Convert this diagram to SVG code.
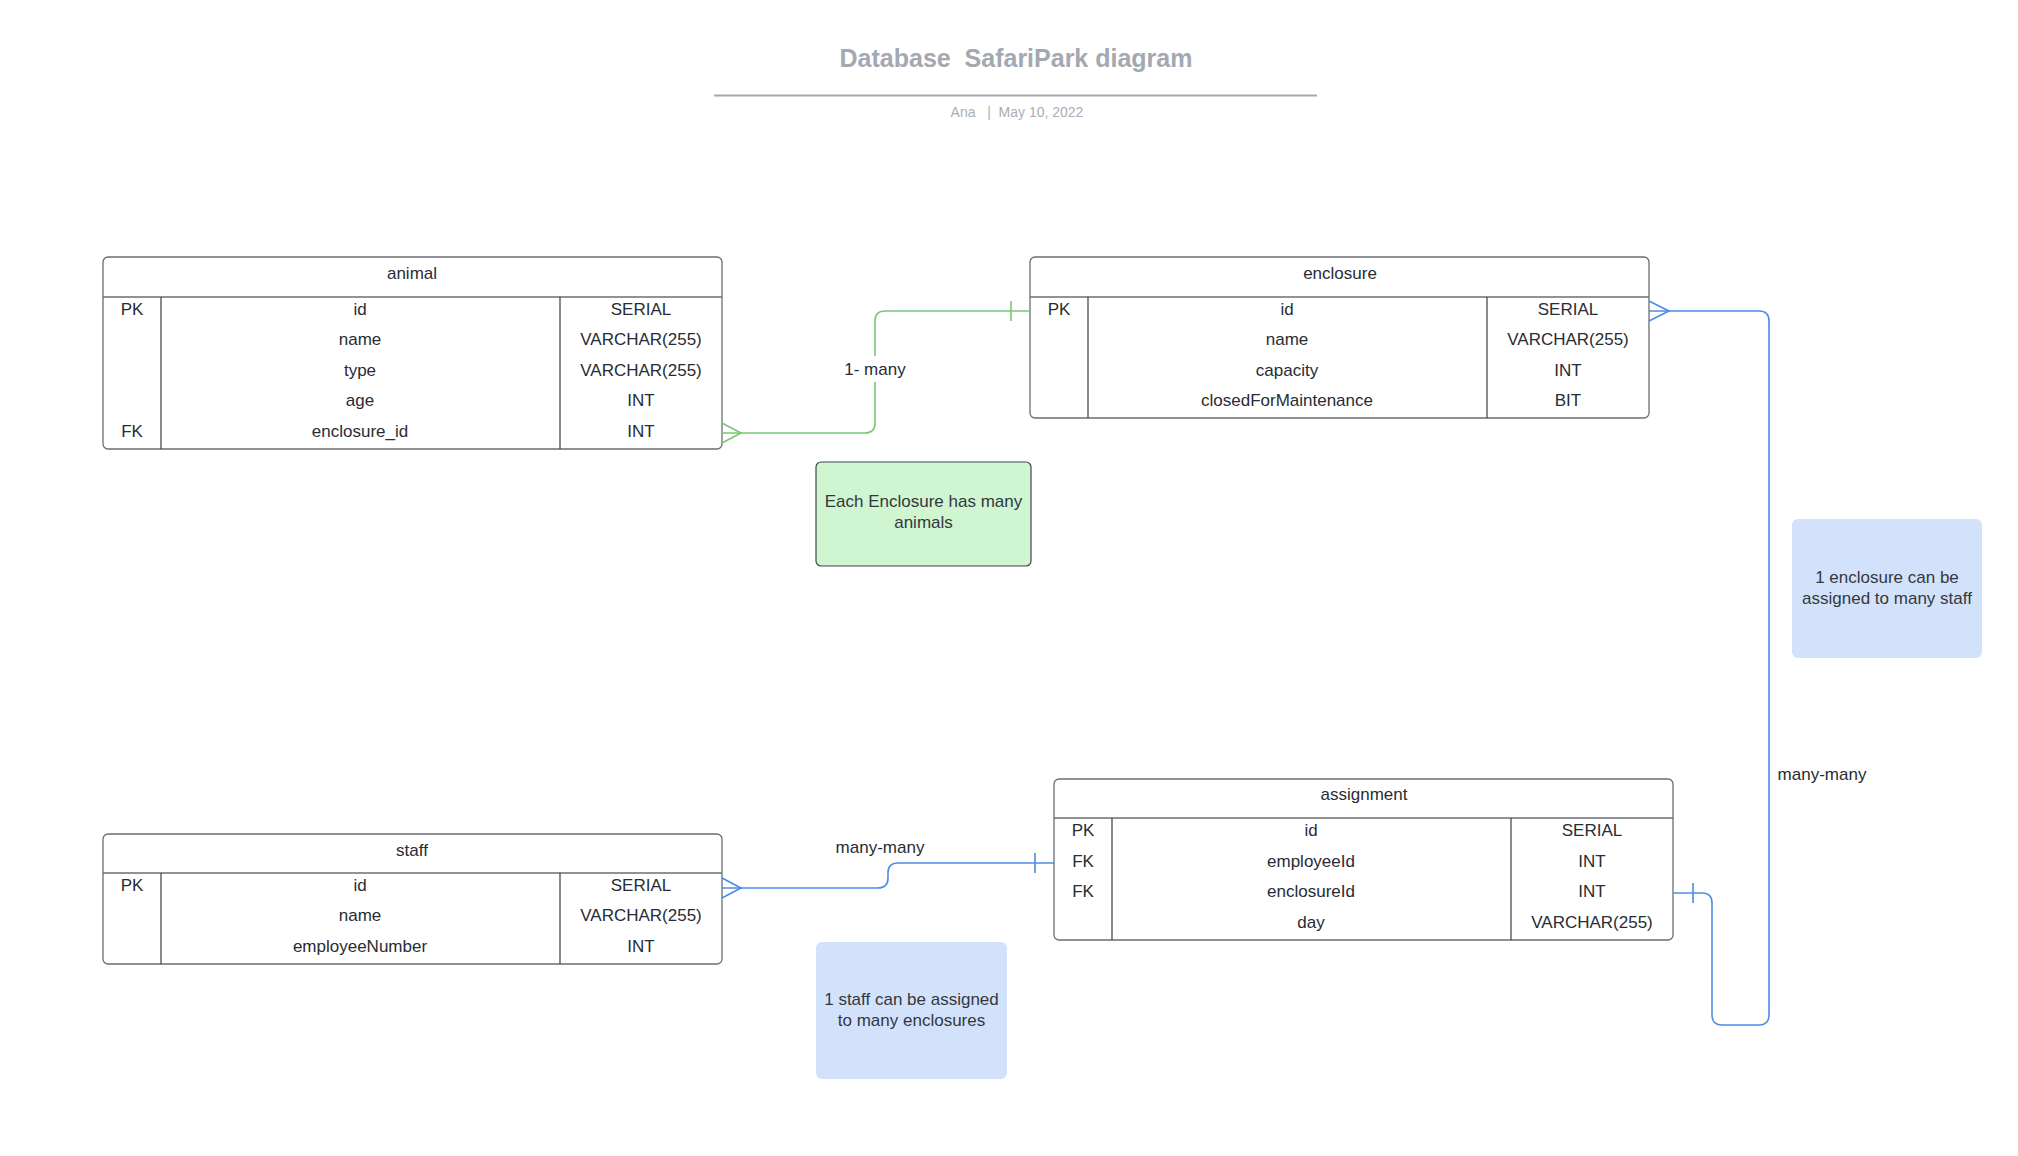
<svg xmlns="http://www.w3.org/2000/svg" width="2018" height="1156" viewBox="0 0 2018 1156">
<style>
text{font-family:"Liberation Sans",Arial,sans-serif;white-space:pre}
.t{font-size:17px;fill:#282c33;text-anchor:middle}
.box{fill:#fff;stroke:#6b6e73;stroke-width:1.3}
.div{stroke:#3a3d42;stroke-width:1.2}
.g{fill:none;stroke:#76c776;stroke-width:1.6}
.b{fill:none;stroke:#4f8ae8;stroke-width:1.6}
.note{font-size:17px;fill:#333840;text-anchor:middle}
</style>
<rect width="2018" height="1156" fill="#fff"/>
<g id="title">
<text x="1016" y="67" font-size="25" font-weight="bold" fill="#a3a8b1" text-anchor="middle">Database  SafariPark diagram</text>
<line x1="714" y1="95.5" x2="1317" y2="95.5" stroke="#a3a8b1" stroke-width="2"/>
<text x="1017" y="117" font-size="14" fill="#a9aeb6" text-anchor="middle">Ana   |  May 10, 2022</text>
</g>
<g id="animal">
<rect class="box" x="103" y="257" width="619" height="192" rx="5"/>
<line class="box" x1="103" y1="297" x2="722" y2="297"/>
<line class="div" x1="161" y1="297" x2="161" y2="449"/>
<line class="div" x1="560" y1="297" x2="560" y2="449"/>
<text class="t" x="412" y="279">animal</text>
<text class="t" x="132" y="315">PK</text><text class="t" x="360" y="315">id</text><text class="t" x="641" y="315">SERIAL</text>
<text class="t" x="360" y="345">name</text><text class="t" x="641" y="345">VARCHAR(255)</text>
<text class="t" x="360" y="376">type</text><text class="t" x="641" y="376">VARCHAR(255)</text>
<text class="t" x="360" y="406">age</text><text class="t" x="641" y="406">INT</text>
<text class="t" x="132" y="437">FK</text><text class="t" x="360" y="437">enclosure_id</text><text class="t" x="641" y="437">INT</text>
</g>
<g id="enclosure">
<rect class="box" x="1030" y="257" width="619" height="161" rx="5"/>
<line class="box" x1="1030" y1="297" x2="1649" y2="297"/>
<line class="div" x1="1088" y1="297" x2="1088" y2="418"/>
<line class="div" x1="1487" y1="297" x2="1487" y2="418"/>
<text class="t" x="1340" y="279">enclosure</text>
<text class="t" x="1059" y="315">PK</text><text class="t" x="1287" y="315">id</text><text class="t" x="1568" y="315">SERIAL</text>
<text class="t" x="1287" y="345">name</text><text class="t" x="1568" y="345">VARCHAR(255)</text>
<text class="t" x="1287" y="376">capacity</text><text class="t" x="1568" y="376">INT</text>
<text class="t" x="1287" y="406">closedForMaintenance</text><text class="t" x="1568" y="406">BIT</text>
</g>
<g id="staff">
<rect class="box" x="103" y="834" width="619" height="130" rx="5"/>
<line class="box" x1="103" y1="873" x2="722" y2="873"/>
<line class="div" x1="161" y1="873" x2="161" y2="964"/>
<line class="div" x1="560" y1="873" x2="560" y2="964"/>
<text class="t" x="412" y="856">staff</text>
<text class="t" x="132" y="891">PK</text><text class="t" x="360" y="891">id</text><text class="t" x="641" y="891">SERIAL</text>
<text class="t" x="360" y="921">name</text><text class="t" x="641" y="921">VARCHAR(255)</text>
<text class="t" x="360" y="952">employeeNumber</text><text class="t" x="641" y="952">INT</text>
</g>
<g id="assignment">
<rect class="box" x="1054" y="779" width="619" height="161" rx="5"/>
<line class="box" x1="1054" y1="818" x2="1673" y2="818"/>
<line class="div" x1="1112" y1="818" x2="1112" y2="940"/>
<line class="div" x1="1511" y1="818" x2="1511" y2="940"/>
<text class="t" x="1364" y="800">assignment</text>
<text class="t" x="1083" y="836">PK</text><text class="t" x="1311" y="836">id</text><text class="t" x="1592" y="836">SERIAL</text>
<text class="t" x="1083" y="867">FK</text><text class="t" x="1311" y="867">employeeId</text><text class="t" x="1592" y="867">INT</text>
<text class="t" x="1083" y="897">FK</text><text class="t" x="1311" y="897">enclosureId</text><text class="t" x="1592" y="897">INT</text>
<text class="t" x="1311" y="928">day</text><text class="t" x="1592" y="928">VARCHAR(255)</text>
</g>
<g id="connectors">
<path class="g" d="M722 433 L865 433 Q875 433 875 423 L875 321 Q875 311 885 311 L1030 311"/>
<path class="g" d="M722 423 L741 433 L722 443"/>
<path class="g" d="M1011 301 L1011 321"/>
<rect x="843" y="356" width="64" height="26" fill="#fff"/>
<text class="t" x="875" y="375">1- many</text>
<path class="b" d="M722 888 L878 888 Q888 888 888 878 L888 873 Q888 863 898 863 L1054 863"/>
<path class="b" d="M722 878 L741 888 L722 898"/>
<path class="b" d="M1035 853 L1035 873"/>
<text class="t" x="880" y="853">many-many</text>
<path class="b" d="M1649 311 L1759 311 Q1769 311 1769 321 L1769 1015 Q1769 1025 1759 1025 L1722 1025 Q1712 1025 1712 1015 L1712 903 Q1712 893 1702 893 L1673 893"/>
<path class="b" d="M1649 301 L1669 311 L1649 321"/>
<path class="b" d="M1693 883 L1693 903"/>
<text class="t" x="1822" y="780">many-many</text>
</g>
<g id="note-green">
<rect x="816" y="462" width="215" height="104" rx="5" fill="#cff5d1" stroke="#3f454d" stroke-width="1.2"/>
<text class="note" x="923.5" y="507">Each Enclosure has many</text>
<text class="note" x="923.5" y="528">animals</text>
</g>
<g id="note-blue-right">
<rect x="1792" y="519" width="190" height="139" rx="6" fill="#d3e2fb"/>
<text class="note" x="1887" y="583">1 enclosure can be</text>
<text class="note" x="1887" y="604">assigned to many staff</text>
</g>
<g id="note-blue-bottom">
<rect x="816" y="942" width="191" height="137" rx="6" fill="#d3e2fb"/>
<text class="note" x="911.5" y="1005">1 staff can be assigned</text>
<text class="note" x="911.5" y="1026">to many enclosures</text>
</g>
</svg>
